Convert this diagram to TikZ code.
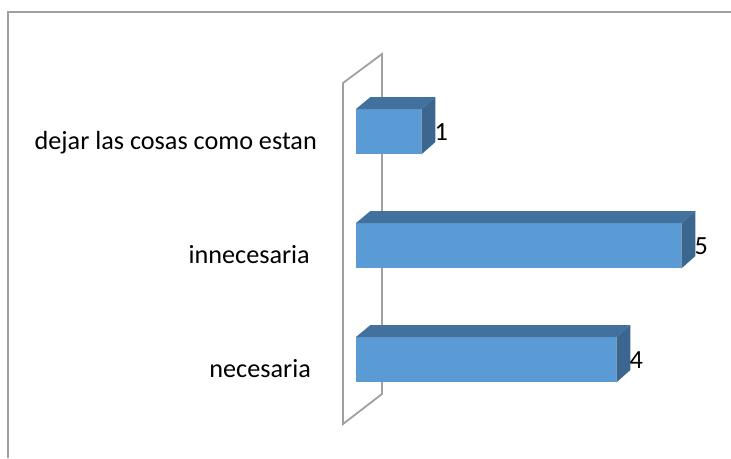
\documentclass[tikz,border=0pt]{standalone}
\usepackage{fontspec}
\setmainfont{Carlito}
\usetikzlibrary{positioning}
\definecolor{barfront}{HTML}{5B9BD5}
\definecolor{bartop}{HTML}{41719C}
\definecolor{barside}{HTML}{3A6690}
\definecolor{wallgray}{HTML}{A0A0A0}

\begin{document}
\begin{tikzpicture}[x=1pt, y=-1pt, font=\fontsize{26.2}{30}\selectfont, line join=miter]
	\useasboundingbox (0,0) rectangle (731,458);
	\tikzset{bar/.style={draw=none, fill=barfront, minimum height=45pt,
			inner sep=0pt, anchor=north west},
		catlabel/.style={anchor=base east, inner sep=0pt},
		vallabel/.style={inner sep=0pt}}
	
	% ---- marco del grafico ----
	\draw[wallgray, line width=2pt] (731,12) -- (8,12) -- (8,458);
	
	% ---- pared del eje (plano 3D) ----
	\coordinate (w1) at (343,424);
	\coordinate (w2) at (343,83);
	\coordinate (w3) at (382,54);
	\coordinate (w4) at (382,394);
	\draw[wallgray, line width=1.8pt] (w1) -- (w2) -- (w3) -- (w4) -- cycle;
	
	% ---- barras: indice / valor / y superior / borde texto / categoria ----
	\foreach \i/\v/\y/\r/\cat in {1/1/109/317/{dejar las cosas como estan},
		2/5/223/310/innecesaria,
		3/4/337/311/necesaria}{
		\node[bar, minimum width=\v*65pt] (b\i) at (356,\y) {};
		\fill[bartop] (b\i.north west) -- (b\i.north east) -- ++(14,-12)
		-- ++(-\v*65,0) -- cycle;
		\fill[barside] (b\i.north east) -- ++(14,-12) -- ++(0,45)
		-- (b\i.south east) -- cycle;
		\node[vallabel, right=13pt of b\i.east] (v\i) {\v};
		\node[catlabel] (c\i) at (\r,\y+40) {\cat};
	}
\end{tikzpicture}
\end{document}
